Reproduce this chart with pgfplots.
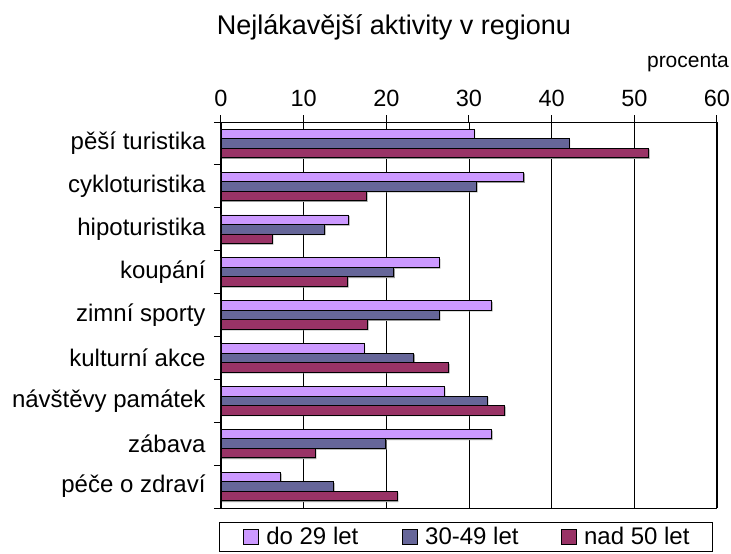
\documentclass[border=0pt]{standalone}
\usepackage{pgfplots}
\pgfplotsset{compat=1.18}
\usepackage{fontspec}
\setmainfont{Liberation Sans}
\definecolor{cA}{HTML}{CC99FF}
\definecolor{cB}{HTML}{666699}
\definecolor{cC}{HTML}{993366}
\pgfplotstableread{
y  a    b    c
0  30.6 42.1 51.7
1  36.6 30.9 17.6
2  15.4 12.5 6.2
3  26.4 20.9 15.3
4  32.7 26.4 17.7
5  17.3 23.3 27.5
6  27.0 32.2 34.3
7  32.7 19.9 11.4
8  7.2  13.6 21.3
}\datatable
\begin{document}
\begin{tikzpicture}
\begin{axis}[
  name=ax, at={(0pt,0pt)}, anchor=south west,
  scale only axis, width=496pt, height=386pt,
  xbar, bar width=9.5pt,
  xmin=0, xmax=60, ymin=-0.5, ymax=8.5,
  y dir=reverse,
  xtick={0,10,...,60},
  xticklabel pos=upper, xtick pos=upper,
  tick align=outside, major tick length=7pt,
  xmajorgrids, grid style={black, line width=0.8pt},
  axis line style={black, line width=1pt},
  tick style={black, line width=1pt},
  ytick={-0.5,0.5,...,8.5}, yticklabels={},
  ytick pos=left,
  extra y ticks={0,1,2,3,4,5,6,7,8},
  extra y tick labels={pěší turistika, cykloturistika, hipoturistika, koupání, zimní sporty, kulturní akce, návštěvy památek, zábava, péče o zdraví},
  extra y tick style={major tick length=0pt, grid=none},
  xticklabel style={font=\fontsize{23.5}{26}\selectfont, yshift=5pt},
  yticklabel style={font=\fontsize{24}{26}\selectfont, xshift=-12pt},
  /pgf/number format/assume math mode=true,
  every axis plot/.append style={line width=0.9pt},
  legend columns=3,
  legend style={at={(-0.004,-0.036)}, anchor=north west, draw=black, line width=0.8pt,
    font=\fontsize{24}{26}\selectfont, inner xsep=16pt, inner ysep=3pt},
  legend image code/.code={\path (0pt,0pt) (28pt,0pt); \draw[#1] (8pt,-8pt) rectangle (23pt,7pt);},
]
% shadows
\addplot[forget plot, fill=black!40, draw=none, bar shift=8.3pt, xshift=1.2pt] table[x=a, y=y] {\datatable};
\addplot[forget plot, fill=black!40, draw=none, bar shift=-1.2pt, xshift=1.2pt] table[x=b, y=y] {\datatable};
\addplot[forget plot, fill=black!40, draw=none, bar shift=-10.7pt, xshift=1.2pt] table[x=c, y=y] {\datatable};
% bars
\addplot[fill=cA, draw=black, bar shift=9.5pt] table[x=a, y=y] {\datatable};
\addplot[fill=cB, draw=black, bar shift=0pt] table[x=b, y=y] {\datatable};
\addplot[fill=cC, draw=black, bar shift=-9.5pt] table[x=c, y=y] {\datatable};
\legend{\makebox[126pt][l]{do 29 let}, \makebox[126pt][l]{30-49 let}, \makebox[110pt][l]{nad 50 let}}
\end{axis}
\node[font=\fontsize{27}{30}\selectfont] at (173pt,481pt) {Nejlákavější aktivity v regionu};
\node[font=\fontsize{21}{24}\selectfont, anchor=east, inner sep=0pt] at (508pt,445pt) {procenta};
\pgfresetboundingbox
\useasboundingbox (-221pt,-46pt) rectangle (510pt,508pt);
\end{tikzpicture}
\end{document}
